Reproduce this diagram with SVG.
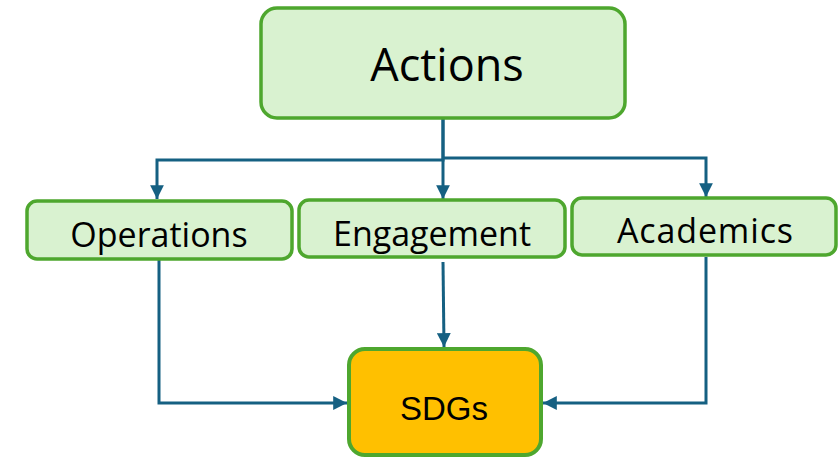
<svg xmlns="http://www.w3.org/2000/svg" width="838" height="458" viewBox="0 0 838 458">
<style>
.node{fill:#d9f2d0;stroke:#4ea72e;stroke-width:3.5}
.sdg{fill:#ffc000;stroke:#4ea72e;stroke-width:4}
.lbl{font-family:"Open Sans","Liberation Sans",sans-serif;fill:#000;text-anchor:middle}
.conn{fill:none;stroke:#156082;stroke-width:3}
</style>
<defs>
<marker id="ah" viewBox="0 0 10 10" refX="10" refY="5" markerWidth="4.6" markerHeight="4.6" orient="auto" markerUnits="strokeWidth">
<path d="M0,0 L10,5 L0,10 Z" fill="#156082"/>
</marker>
</defs>
<g id="connectors">
<path class="conn" d="M443,119 V160 H157 V199" marker-end="url(#ah)"/>
<path class="conn" d="M443,119 V199" marker-end="url(#ah)"/>
<path class="conn" d="M443,158 H706 V197" marker-end="url(#ah)"/>
<path class="conn" d="M159,260 V403 H347" marker-end="url(#ah)"/>
<path class="conn" d="M443,262 L444,347" marker-end="url(#ah)"/>
<path class="conn" d="M706,257 V403 H543" marker-end="url(#ah)"/>
</g>
<g id="actions">
<rect class="node" x="261" y="8" width="364" height="110" rx="16"/>
<text class="lbl" x="447" y="81" font-size="45">Actions</text>
</g>
<g id="operations">
<rect class="node" x="27" y="201" width="265" height="58" rx="10"/>
<text class="lbl" x="159" y="247" font-size="34">Operations</text>
</g>
<g id="engagement">
<rect class="node" x="299" y="200" width="266" height="57" rx="10"/>
<text class="lbl" x="432" y="246" font-size="34" textLength="198">Engagement</text>
</g>
<g id="academics">
<rect class="node" x="572" y="198" width="264" height="57" rx="10"/>
<text class="lbl" x="705" y="243" font-size="34" textLength="176">Academics</text>
</g>
<g id="sdgs">
<rect class="sdg" x="349" y="349" width="192" height="106" rx="16"/>
<text x="444" y="420" font-size="33" font-family="'Liberation Sans',Arial,sans-serif" text-anchor="middle" fill="#000">SDGs</text>
</g>
</svg>
